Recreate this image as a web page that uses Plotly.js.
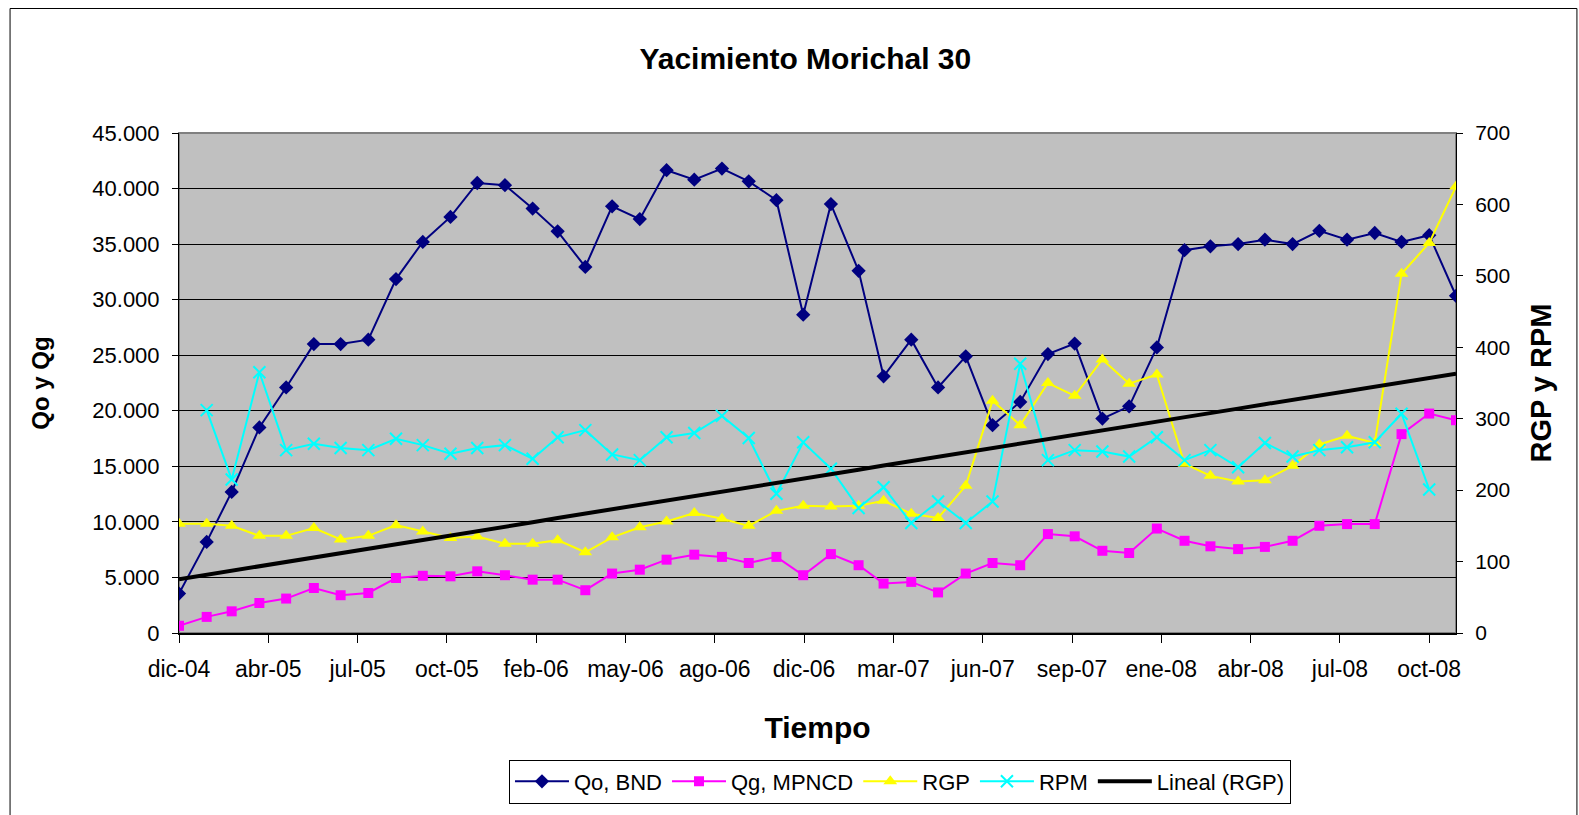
<!DOCTYPE html>
<html><head><meta charset="utf-8">
<script src="https://cdn.plot.ly/plotly-3.0.1.min.js"></script>
<style>html,body{margin:0;padding:0;background:#fff;overflow:hidden}#chart{width:1579px;height:815px}</style>
</head><body><div id="chart"></div>
<script>
const fechas = ['2004-12-31','2005-01-31','2005-02-28','2005-03-31','2005-04-30','2005-05-31','2005-06-30','2005-07-31','2005-08-31','2005-09-30','2005-10-31','2005-11-30',
 '2005-12-31','2006-01-31','2006-02-28','2006-03-31','2006-04-30','2006-05-31','2006-06-30','2006-07-31','2006-08-31','2006-09-30','2006-10-31','2006-11-30',
 '2006-12-31','2007-01-31','2007-02-28','2007-03-31','2007-04-30','2007-05-31','2007-06-30','2007-07-31','2007-08-31','2007-09-30','2007-10-31','2007-11-30',
 '2007-12-31','2008-01-31','2008-02-29','2008-03-31','2008-04-30','2008-05-31','2008-06-30','2008-07-31','2008-08-31','2008-09-30','2008-10-31','2008-11-30'];
const qo = [3550,8200,12700,18500,22100,26000,26000,26400,31850,35200,37450,40500,
 40300,38200,36150,32950,38400,37250,41650,40800,41800,40650,38950,28650,
 38600,32600,23100,26400,22100,24900,18700,20800,25100,26050,19300,20400,
 25700,34450,34800,35000,35400,35000,36200,35400,36000,35200,35800,30350];
const qg = [650,1450,1950,2700,3100,4050,3400,3600,4950,5150,5100,5550,
 5200,4800,4800,3850,5350,5700,6600,7050,6850,6300,6850,5200,
 7100,6100,4450,4600,3650,5350,6300,6100,8900,8700,7400,7200,
 9400,8300,7800,7550,7750,8300,9650,9800,9800,17900,19750,19150];
const rgp = [153,153,150,136,136,147,131,136,151,142,133,135,
 125,125,130,113,134,148,156,168,160,150,171,178,
 177,178,185,167,161,206,325,291,350,332,383,349,
 362,237,220,212,214,234,264,276,266,503,546,625];
const rpm = [null,312,215,365,256,265,259,256,272,263,251,259,
 263,244,274,284,250,242,274,280,304,273,195,267,
 230,175,204,154,184,154,184,377,242,256,254,247,
 274,242,256,232,266,247,256,260,267,307,201,null];
const etiquetasX = ['dic-04','abr-05','jul-05','oct-05','feb-06','may-06','ago-06','dic-06','mar-07','jun-07','sep-07','ene-08','abr-08','jul-08','oct-08'];
const nombres = ['Qo, BND','Qg, MPNCD','RGP','RPM','Lineal (RGP)'];

// tick positions: every 100 days from first date
const t0 = Date.parse(fechas[0] + 'T00:00:00Z');
const tickVals = etiquetasX.map((_, k) => new Date(t0 + k * 100 * 86400000).toISOString().slice(0, 10));

// linear trend of RGP (least squares on index)
const n = rgp.length;
let sx = 0, sy = 0, sxx = 0, sxy = 0;
rgp.forEach((v, i) => { sx += i; sy += v; sxx += i * i; sxy += i * v; });
const b = (n * sxy - sx * sy) / (n * sxx - sx * sx);
const a = (sy - b * sx) / n;
const tendencia = rgp.map((_, i) => a + b * i);

const sans = 'Liberation Sans, Arial, sans-serif';

const traces = [
 {x: fechas, y: qo, name: nombres[0], type: 'scatter', mode: 'lines+markers',
  line: {color: '#000080', width: 2}, marker: {symbol: 'diamond', size: 11, color: '#000080'}},
 {x: fechas, y: qg, name: nombres[1], type: 'scatter', mode: 'lines+markers',
  line: {color: '#FF00FF', width: 2}, marker: {symbol: 'square', size: 10, color: '#FF00FF'}},
 {x: fechas, y: rgp, name: nombres[2], type: 'scatter', mode: 'lines+markers', yaxis: 'y2',
  line: {color: '#FFFF00', width: 2}, marker: {symbol: 'triangle-up', size: 12, color: '#FFFF00'}},
 {x: fechas, y: rpm, name: nombres[3], type: 'scatter', mode: 'lines+markers', yaxis: 'y2',
  line: {color: '#00FFFF', width: 2}, marker: {symbol: 'x-thin-open', size: 12, color: '#00FFFF', line: {color: '#00FFFF', width: 2}}},
 {x: fechas, y: tendencia, name: nombres[4], type: 'scatter', mode: 'lines', yaxis: 'y2',
  line: {color: '#000000', width: 4}}
];

const layout = {
 width: 1579, height: 815,
 margin: {l: 179, r: 123, t: 133, b: 180},
 paper_bgcolor: '#FFFFFF', plot_bgcolor: '#C0C0C0',
 separators: ',.',
 font: {family: sans, color: '#000', size: 18},
 title: {text: '<b>Yacimiento Morichal 30</b>', font: {family: sans, size: 30, color: '#000'}, x: 0.51, xanchor: 'center', y: 0.928, yanchor: 'middle'},
 xaxis: {type: 'date', range: [fechas[0], fechas[n - 1]], tickmode: 'array', tickvals: tickVals, ticktext: etiquetasX,
  ticks: 'outside', ticklen: 8, tickcolor: '#000', showline: true, linecolor: '#000', linewidth: 2,
  showgrid: false, zeroline: false, tickfont: {family: sans, size: 23}, ticklabelstandoff: 6,
  title: {text: '<b>Tiempo</b>', font: {family: sans, size: 30}, standoff: 36}},
 yaxis: {range: [0, 45000], dtick: 5000, tickformat: ',d', ticks: 'outside', ticklen: 6, tickcolor: '#000',
  showline: true, linecolor: '#000', linewidth: 1, showgrid: true, gridcolor: '#000', gridwidth: 1, zeroline: false,
  tickfont: {family: sans, size: 22}, ticklabelstandoff: 8,
  title: {text: '<b>Qo y Qg</b>', font: {family: sans, size: 24}, standoff: 35}},
 yaxis2: {range: [0, 700], dtick: 100, overlaying: 'y', side: 'right', ticks: 'outside', ticklen: 6, tickcolor: '#000',
  showline: true, linecolor: '#000', linewidth: 1, showgrid: false, zeroline: false,
  tickfont: {family: sans, size: 21}, ticklabelstandoff: 8,
  title: {text: '<b>RGP y RPM</b>', font: {family: sans, size: 29}, standoff: 21}},
 showlegend: true,
 legend: {orientation: 'h', x: 0.2584, xanchor: 'left', y: -0.253, yanchor: 'top', bgcolor: '#FFFFFF',
  bordercolor: '#000', borderwidth: 1, font: {family: sans, size: 22}, itemwidth: 54, traceorder: 'normal'},
 shapes: [
  {type: 'rect', xref: 'paper', yref: 'paper', x0: 0, x1: 1, y0: 0, y1: 1, line: {color: '#808080', width: 2}, layer: 'below'},
  {type: 'rect', xref: 'paper', yref: 'paper', x0: -0.1323, x1: 1.0947, y0: -0.40, y1: 1.249, line: {color: '#000', width: 1}, layer: 'below'}
 ]
};

Plotly.newPlot('chart', traces, layout, {displayModeBar: false, staticPlot: true});
</script></body></html>
